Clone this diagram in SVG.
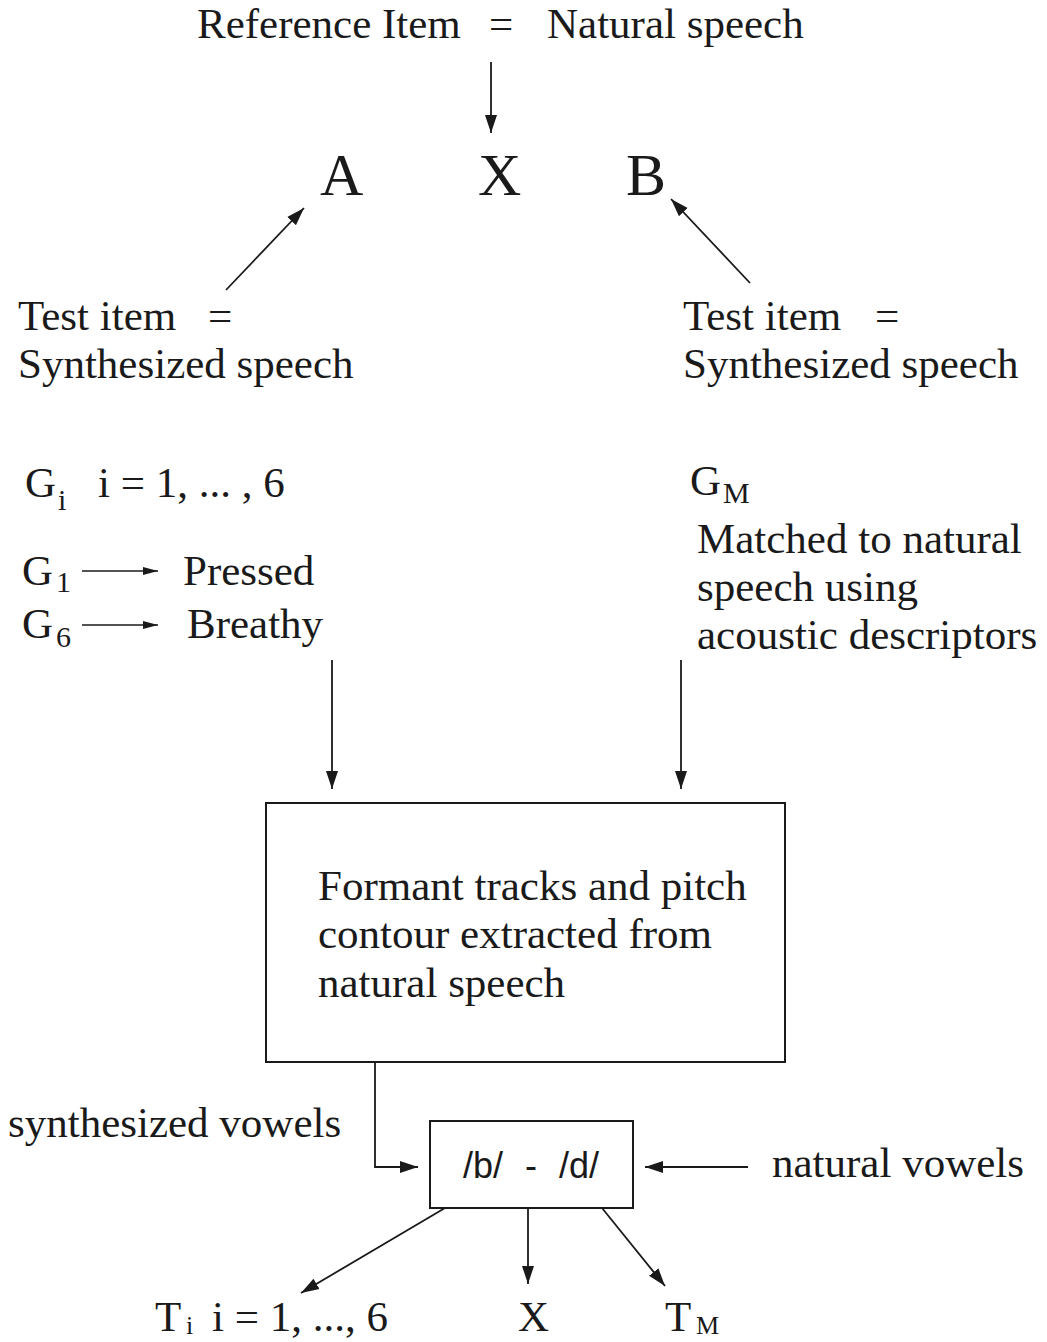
<svg xmlns="http://www.w3.org/2000/svg" width="1047" height="1342" viewBox="0 0 1047 1342">
<defs>
<marker id="ah" markerUnits="userSpaceOnUse" markerWidth="20" markerHeight="14" refX="18" refY="7" orient="auto">
<path d="M0,1 L18,7 L0,13 Z" fill="#1a1a1a"/>
</marker>
<marker id="ahs" markerUnits="userSpaceOnUse" markerWidth="16" markerHeight="10" refX="15" refY="5" orient="auto">
<path d="M0,1 L15,5 L0,9 Z" fill="#1a1a1a"/>
</marker>
<style>
text{font-family:"Liberation Serif","Times New Roman",serif;fill:#1a1a1a;font-size:43px}
.big{font-size:60px}
.sub{font-size:30px}
.subs{font-size:26px}
.sans{font-family:"Liberation Sans",Arial,sans-serif;font-size:36px}
.c{stroke:#1a1a1a;stroke-width:1.8;fill:none;marker-end:url(#ah)}
.cs{stroke:#1a1a1a;stroke-width:1.4;fill:none;marker-end:url(#ahs)}
.box{stroke:#1a1a1a;stroke-width:2;fill:#fff}
</style>
</defs>
<rect width="1047" height="1342" fill="#fff"/>

<g id="reference">
<text x="197" y="38">Reference Item</text>
<text x="489" y="38">=</text>
<text x="547" y="38">Natural speech</text>
</g>

<g id="axb">
<text class="big" x="320" y="195">A</text>
<text class="big" x="478" y="195">X</text>
<text class="big" x="626" y="195">B</text>
</g>

<g id="test-left">
<text x="18" y="330">Test item</text>
<text x="208" y="330">=</text>
<text x="18" y="378">Synthesized speech</text>
</g>

<g id="test-right">
<text x="683" y="330">Test item</text>
<text x="875" y="330">=</text>
<text x="683" y="378">Synthesized speech</text>
</g>

<g id="gi">
<text x="25" y="497">G<tspan class="sub" x="58" y="510">i</tspan></text>
<text x="98" y="497">i = 1, ... , 6</text>
<text x="22" y="585">G<tspan class="sub" x="56" y="592">1</tspan></text>
<text x="183" y="585">Pressed</text>
<text x="22" y="638">G<tspan class="sub" x="56" y="647">6</tspan></text>
<text x="187" y="638">Breathy</text>
</g>

<g id="gm">
<text x="690" y="495">G<tspan class="sub" x="723" y="503">M</tspan></text>
<text x="697" y="553">Matched to natural</text>
<text x="697" y="601">speech using</text>
<text x="697" y="649">acoustic descriptors</text>
</g>

<g id="formant">
<rect class="box" x="266" y="803" width="519" height="259"/>
<text x="318" y="900">Formant tracks and pitch</text>
<text x="318" y="948">contour extracted from</text>
<text x="318" y="997">natural speech</text>
</g>

<g id="bd">
<rect class="box" x="430" y="1121" width="203" height="87"/>
<text class="sans" x="531" y="1178" text-anchor="middle" word-spacing="12">/b/ - /d/</text>
</g>

<g id="labels">
<text x="8" y="1137">synthesized vowels</text>
<text x="772" y="1177">natural vowels</text>
</g>

<g id="outputs">
<text x="155" y="1331">T<tspan class="subs" x="186" y="1334">i</tspan></text>
<text x="212" y="1331">i = 1, ..., 6</text>
<text x="518" y="1331">X</text>
<text x="665" y="1331">T<tspan class="subs" x="696" y="1334">M</tspan></text>
</g>

<g id="connectors">
<line class="c" x1="491" y1="62" x2="491" y2="133"/>
<line class="c" x1="226" y1="290" x2="304" y2="208"/>
<line class="c" x1="750" y1="283" x2="671" y2="199"/>
<line class="cs" x1="82" y1="571" x2="158" y2="571"/>
<line class="cs" x1="82" y1="625" x2="158" y2="625"/>
<line class="c" x1="332" y1="660" x2="332" y2="789"/>
<line class="c" x1="681" y1="660" x2="681" y2="789"/>
<polyline class="c" points="375,1062 375,1167 418,1167"/>
<line class="c" x1="748" y1="1167" x2="645" y2="1167"/>
<line class="c" x1="445" y1="1208" x2="301" y2="1293"/>
<line class="c" x1="528" y1="1208" x2="528" y2="1284"/>
<line class="c" x1="602" y1="1208" x2="665" y2="1286"/>
</g>
</svg>
